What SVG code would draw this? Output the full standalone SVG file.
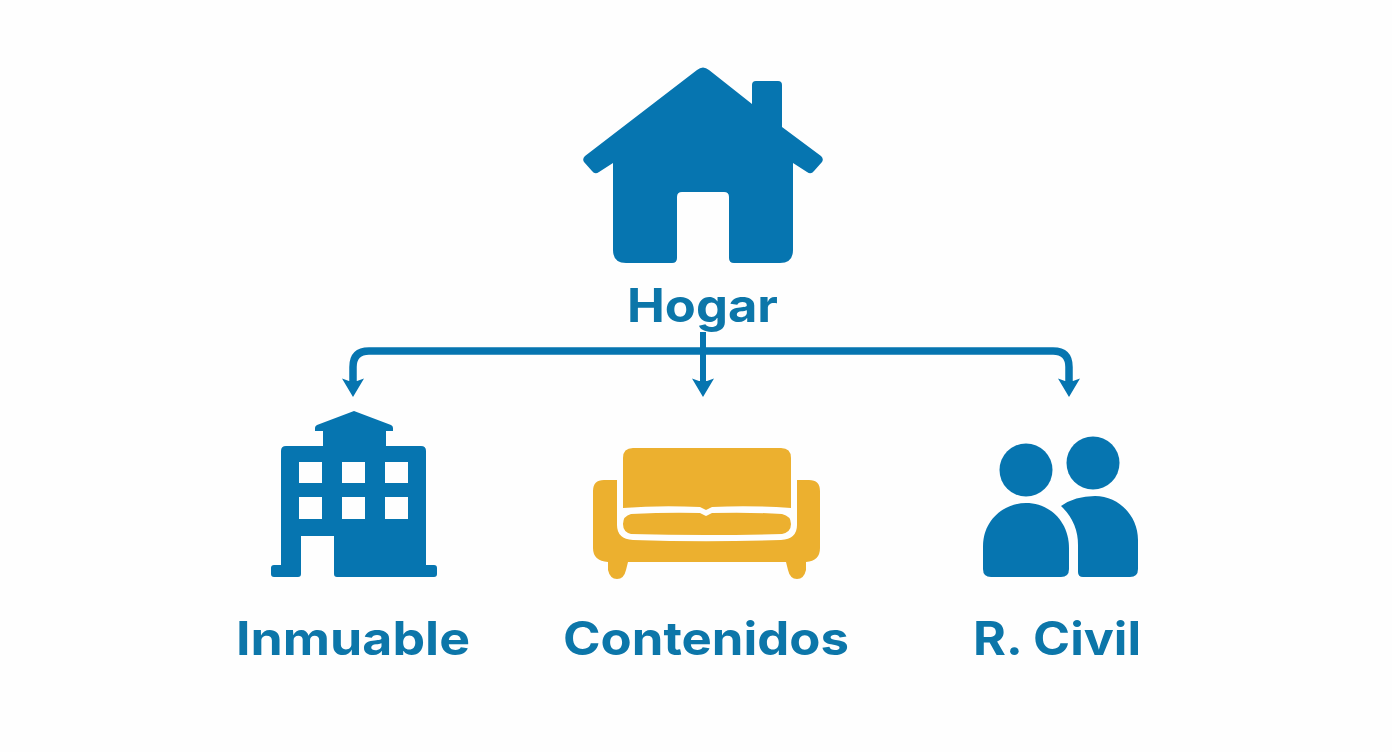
<svg xmlns="http://www.w3.org/2000/svg" width="1392" height="752" viewBox="0 0 1392 752">
<style>
.b{fill:#0675b0}
.y{fill:#ecb02f}
.t{font-family:"Inter","Liberation Sans",sans-serif;font-weight:700;font-size:46px;fill:#0c76a9}
.c{fill:none;stroke:#0675b0}
</style>
<defs>
<path id="head" class="b" d="M-11 378.500L-4 381H4L11 378.500L0 397Z"/>
</defs>
<rect width="1392" height="752" fill="#fefefe"/>
<g id="node-hogar">
<path class="b" d="M697 70Q703 65 709 70L752 104V85Q752 81 756 81H778Q782 81 782 85V127L821 156Q824 159 822 162L814 171Q811 175 807 172L793 163V250Q793 263 780 263H734Q729 263 729 258V197Q729 192 724 192H682Q677 192 677 197V258Q677 263 672 263H626Q613 263 613 250V163L599 172Q595 175 592 171L584 162Q582 159 585 156Z"/>
<text class="t" x="627" y="322" textLength="151" lengthAdjust="spacingAndGlyphs">Hogar</text>
</g>
<g id="node-inmuable">
<path class="b" fill-rule="evenodd" d="M354 411L391 425Q393 426 393 428V431H386V446H421Q426 446 426 451V565H434Q437 565 437 568V574Q437 577 434 577H337Q334 577 334 574V536H301V574Q301 577 298 577H274Q271 577 271 574V568Q271 565 274 565H281V451Q281 446 286 446H323V431H315V428Q315 426 317 425ZM299 462V483H322V462ZM342 462V483H365V462ZM385 462V483H408V462ZM299 497V519H322V497ZM342 497V519H365V497ZM385 497V519H408V497Z"/>
<text class="t" x="236" y="655" textLength="234" lengthAdjust="spacingAndGlyphs">Inmuable</text>
</g>
<g id="node-contenidos">
<path class="y" d="M633 448H781Q791 448 791 458V508Q750 505 712 507L706 510L700 507Q660 505 623 508V458Q623 448 633 448Z"/>
<path class="y" d="M631 514Q670 512 700 513L706 516L712 513Q750 512 782 514Q791 516 791 524Q791 532 782 534Q706 536 631 534Q623 532 623 524Q623 516 631 514Z"/>
<path class="y" d="M604 480H617V525Q617 539 633 540Q706 542.500 781 540Q797 539 797 525V480H809Q820 480 820 491V548Q820 561 806 562V570Q804 579 797 579Q790 579 788 570L786 562H628L626 570Q624 579 617 579Q610 579 608 570V562Q593 561 593 548V491Q593 480 604 480Z"/>
<text class="t" x="563" y="655" textLength="286" lengthAdjust="spacingAndGlyphs">Contenidos</text>
</g>
<g id="node-rcivil">
<circle class="b" cx="1026" cy="470" r="26.500"/>
<circle class="b" cx="1093" cy="463" r="26.500"/>
<path class="b" d="M1026 503C1050 503 1069 522 1069 548V569Q1069 577 1061 577H991Q983 577 983 569V546C983 522 1002 503 1026 503Z"/>
<path class="b" d="M1061 506Q1075 496 1095 496C1119 496 1138 516 1138 540V569Q1138 577 1130 577H1083Q1078 577 1078 572V545Q1078 522 1061 506Z"/>
<text class="t" x="973" y="655" textLength="168" lengthAdjust="spacingAndGlyphs">R. Civil</text>
</g>
<g id="connectors">
<path class="c" stroke-width="6" d="M703 332V385"/>
<path class="c" stroke-width="7.500" d="M353 385V367Q353 351 369 351H1053Q1069 351 1069 367V385"/>
<use href="#head" x="353"/>
<use href="#head" x="703"/>
<use href="#head" x="1069"/>
</g>
</svg>
